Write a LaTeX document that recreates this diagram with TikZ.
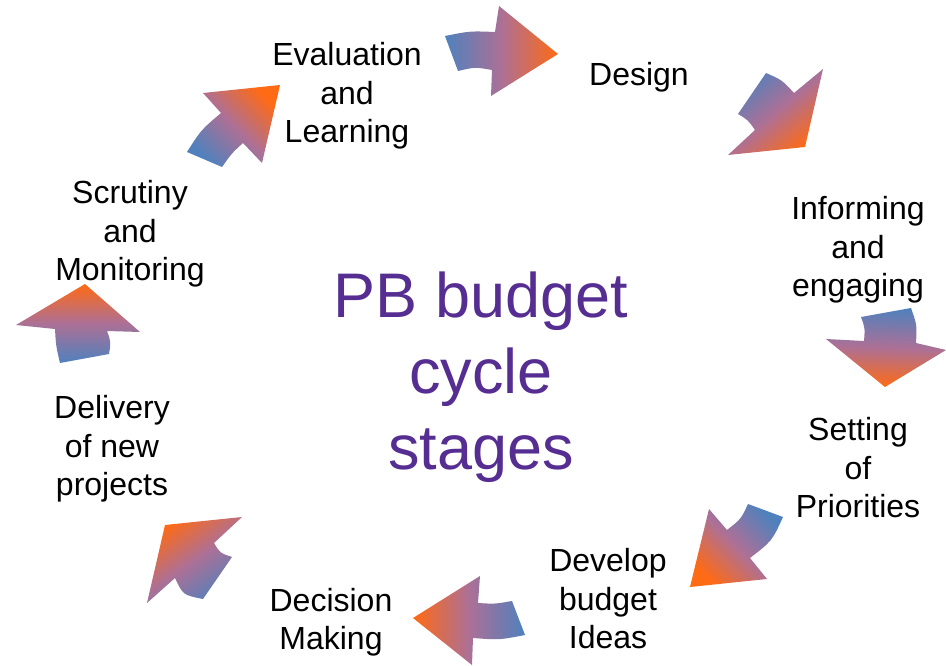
\documentclass[tikz,border=0pt]{standalone}
\usepackage{fontspec}
\setmainfont{Liberation Sans}
\definecolor{cycblue}{RGB}{79,129,189}
\definecolor{cycmid}{RGB}{172,112,150}
\definecolor{cycorange}{RGB}{255,106,20}
\definecolor{titlepurple}{RGB}{86,46,146}
\pgfdeclarehorizontalshading{cycleshade}{100bp}{color(0bp)=(cycblue); color(25bp)=(cycblue); color(50bp)=(cycmid); color(75bp)=(cycorange); color(100bp)=(cycorange)}

\begin{document}
\begin{tikzpicture}[x=1pt,y=-1pt,
	stage node/.style={align=center,font=\fontsize{32}{38.5}\selectfont},
	title node/.style={align=center,text=titlepurple,font=\fontsize{63}{76}\selectfont},
	cycle arrow/.style={shading=cycleshade,shading angle=#1}]
	
	\useasboundingbox (0,0) rectangle (946,666);
	
	\node[title node] (0) at (481,377) {PB budget\\cycle\\stages};
	
	\node[stage node] (1) at (347,96) {Evaluation\\and\\Learning};
	\node[stage node] (2) at (639,77) {Design};
	\node[stage node] (3) at (858,250) {Informing\\and\\engaging};
	\node[stage node] (4) at (858,468) {Setting\\of\\Priorities};
	\node[stage node] (5) at (608,599) {Develop\\budget\\Ideas};
	\node[stage node] (6) at (331,622) {Decision\\Making};
	\node[stage node] (7) at (112,449) {Delivery\\of new\\projects};
	\node[stage node] (8) at (130,234) {Scrutiny\\and\\Monitoring};
	
	% arrows round the cycle
	\shade[cycle arrow=0] (445,36) .. controls (470,31) .. (495,32) -- (499,6) -- (558,54)
		-- (491,96) -- (492,70) .. controls (475,67) .. (458,71) -- cycle;
	\shade[cycle arrow=-50] (766,73) .. controls (782,80) .. (794,93) -- (823,69) -- (805,147)
		-- (728,155) -- (755,130) .. controls (748,120) .. (738,114) -- cycle;
	\shade[cycle arrow=-92] (861,317) -- (911,308) .. controls (917,325) .. (916,343) -- (946,350)
		-- (885,387) -- (826,339) -- (864,341) .. controls (865,328) .. (861,317) -- cycle;
	\shade[cycle arrow=-135] (748,504) -- (783,517) .. controls (772,541) .. (750,558) -- (767,579)
		-- (690,587) -- (709,509) -- (727,530) .. controls (741,519) .. (748,504) -- cycle;
	\shade[cycle arrow=180] (512,601) -- (525,635) .. controls (499,640) .. (473,638) -- (472,665)
		-- (413,618) -- (480,576) -- (478,603) .. controls (495,604) .. (512,601) -- cycle;
	\shade[cycle arrow=125] (242,517) -- (214,543) .. controls (220,553) .. (232,557) -- (203,599)
		.. controls (183,595) .. (175,578) -- (147,603) -- (165,525) -- cycle;
	\shade[cycle arrow=90] (85,284) -- (140,332) -- (107,331) .. controls (111,342) .. (109,354)
		-- (60,363) .. controls (56,346) .. (55,329) -- (16,325) -- cycle;
	\shade[cycle arrow=45] (280,85) -- (262,163) -- (243,143) .. controls (232,153) .. (222,167)
		-- (187,152) .. controls (201,130) .. (221,113) -- (203,93) -- cycle;
\end{tikzpicture}
\end{document}
